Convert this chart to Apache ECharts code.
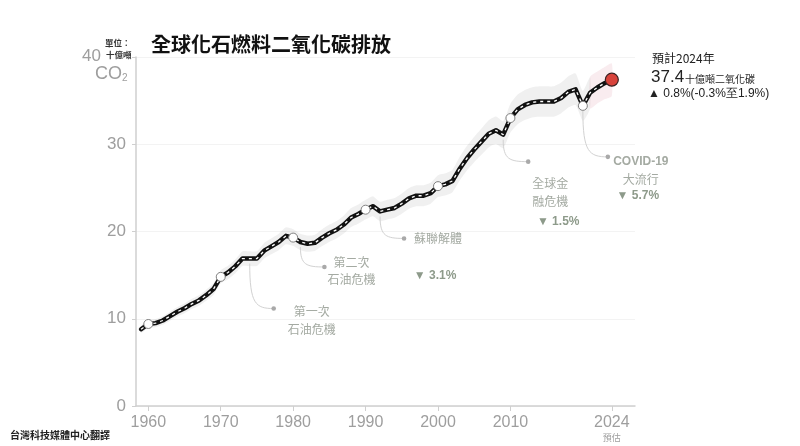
<!DOCTYPE html>
<html><head><meta charset="utf-8">
<script src="https://cdn.jsdelivr.net/npm/echarts@6/dist/echarts.min.js"></script>
<style>html,body{margin:0;padding:0;background:#fff;}#c{width:800px;height:446px;}</style>
</head><body><div id="c"></div>
<script>
// ---------- data ----------
const years = [1959,1960,1961,1962,1963,1964,1965,1966,1967,1968,1969,
  1970,1971,1972,1973,1974,1975,1976,1977,1978,1979,
  1980,1981,1982,1983,1984,1985,1986,1987,1988,1989,
  1990,1991,1992,1993,1994,1995,1996,1997,1998,1999,
  2000,2001,2002,2003,2004,2005,2006,2007,2008,2009,
  2010,2011,2012,2013,2014,2015,2016,2017,2018,2019,
  2020,2021,2022,2023,2024];
const emissions = [8.8,9.4,9.5,9.8,10.3,10.8,11.2,11.7,12.1,12.7,13.4,
  14.8,15.3,16.0,16.9,16.9,16.9,17.8,18.3,18.8,19.5,
  19.3,18.8,18.6,18.7,19.3,19.8,20.2,20.8,21.6,22.0,
  22.5,22.9,22.3,22.5,22.7,23.2,23.8,24.1,24.1,24.4,
  25.2,25.4,25.8,27.2,28.4,29.4,30.3,31.2,31.6,31.1,
  33.0,34.0,34.5,34.8,34.9,34.9,34.9,35.3,36.0,36.3,
  34.4,35.9,36.5,37.0,37.4];
const markedYears = [1960,1970,1980,1990,2000,2010,2020];
const forecastYear = 2024;
const forecastChange = '0.8%';
const forecastRange = ['-0.3%', '1.9%'];
const xTickLabels = [1960,1970,1980,1990,2000,2010,2024];
const yTickValues = [0,10,20,30,40];
const uncertaintyShare = 0.05;   // ±5% uncertainty band
const bandSplitYear = 2021;      // band turns pink (projection) from here
const eventYears = [1974, 1981, 1992, 2009, 2020];
const eventTexts = [['第一次','石油危機'], ['第二次','石油危機'], ['蘇聯解體'], ['全球金','融危機'], ['COVID-19','大流行']];
const eventDrops = [null, null, '3.1%', '1.5%', '5.7%'];

// ---------- layout (pixel offsets from the anchor point on the line) ----------
const eventLayout = [
  {dot:[24,50], text:[62,53], drop:null},
  {dot:[24,25], text:[51,20], drop:null},
  {dot:[24,27], text:[58,27], drop:[55,64]},
  {dot:[25,27], text:[47,49], drop:[55,87]},
  {dot:[25,51], text:[58,56], drop:[55,90]}
];

const valueAt = y => emissions[years.indexOf(y)];
const lineData = years.map((y,i)=>[y, emissions[i]]);
const CJK = '"Noto Sans CJK TC", "Noto Sans CJK SC", sans-serif';
const LAT = '"Liberation Sans", Arial, sans-serif';

const chart = echarts.init(document.getElementById('c'), null, {renderer:'canvas'});

function bandPolygon(api, filter, fill){
  const pts = [];
  const sel = years.map((y,i)=>[y,emissions[i]]).filter(d=>filter(d[0]));
  sel.forEach(d=>pts.push(api.coord([d[0], d[1]*(1+uncertaintyShare)])));
  sel.slice().reverse().forEach(d=>pts.push(api.coord([d[0], d[1]*(1-uncertaintyShare)])));
  return {type:'polygon', shape:{points:pts, smooth:0.2}, style:{fill:fill}};
}

const option = {
  animation:false,
  backgroundColor:'#fff',
  title:{text:'全球化石燃料二氧化碳排放', left:146, top:29,
    textStyle:{fontFamily:CJK, fontSize:20, fontWeight:'bold', color:'#111'}},
  grid:{left:136, right:165, top:57, bottom:40},
  xAxis:{type:'value', min:1958.3, max:2027.2,
    axisLine:{show:true, lineStyle:{color:'#cfcfcf', width:1.5}},
    axisTick:{show:true, customValues:xTickLabels, length:5, lineStyle:{color:'#cfcfcf'}},
    axisLabel:{customValues:xTickLabels, margin:8,
      formatter: v => v===forecastYear ? '{n|'+v+'}\n{s|預估}' : '{n|'+v+'}',
      rich:{n:{fontFamily:LAT, fontSize:16, color:'#9e9e9e', lineHeight:18},
            s:{fontFamily:CJK, fontSize:9, color:'#9e9e9e', lineHeight:12}}},
    splitLine:{show:false}},
  yAxis:{type:'value', min:0, max:40, interval:10,
    axisLine:{show:true, lineStyle:{color:'#cfcfcf', width:1.5}},
    axisTick:{show:true, length:4, lineStyle:{color:'#cfcfcf'}},
    axisLabel:{margin:10, fontFamily:LAT, fontSize:17, color:'#9e9e9e',
      formatter: v => v===40 ? '' : String(v)},
    splitLine:{show:true, lineStyle:{color:'#f3f3f3', width:1}}},
  series:[
    {type:'custom', z:1, silent:true, data:[0], clip:false,
      renderItem:(params, api)=>({type:'group', children:[
        bandPolygon(api, y=>y<=bandSplitYear, 'rgba(0,0,0,0.06)'),
        bandPolygon(api, y=>y>=bandSplitYear, 'rgba(215,120,140,0.14)')
      ]})},
    {type:'custom', z:2, silent:true, data:eventYears.map((y,i)=>i), clip:false,
      renderItem:(params, api)=>{
        const i = params.dataIndex;
        const lay = eventLayout[i];
        const a = api.coord([eventYears[i], valueAt(eventYears[i])]);
        const ax = a[0], ay = a[1]+5;
        const dx = a[0]+lay.dot[0], dy = a[1]+lay.dot[1];
        const children = [
          {type:'bezierCurve', shape:{x1:ax, y1:ay, cpx1:ax, cpy1:ay+(dy-ay)*0.9, cpx2:ax+(dx-ax)*0.25, cpy2:dy, x2:dx, y2:dy},
            style:{stroke:'#d2d2d2', lineWidth:1, fill:null}},
          {type:'circle', shape:{cx:dx, cy:dy, r:2.3}, style:{fill:'#a9a9a9'}}
        ];
        const lines = eventTexts[i];
        const tx = a[0]+lay.text[0], ty = a[1]+lay.text[1];
        lines.forEach((t,k)=>{
          const isLatin = /^[A-Z0-9-]+$/.test(t);
          children.push({type:'text', style:{text:t, x:tx, y:ty+k*17.5, align:'center', verticalAlign:'middle',
            fill:'#a4aaa2', fontSize:12, fontWeight: isLatin?'bold':'normal', fontFamily: isLatin?LAT:CJK}});
        });
        if (eventDrops[i] && lay.drop){
          children.push({type:'text', style:{text:'▼ '+eventDrops[i], x:a[0]+lay.drop[0], y:a[1]+lay.drop[1],
            align:'center', verticalAlign:'middle', fill:'#8d9a8a', fontSize:12, fontWeight:'bold', fontFamily:LAT}});
        }
        return {type:'group', children};
      }},
    {type:'line', z:3, data:lineData, symbol:'none', silent:true,
      lineStyle:{color:'#111', width:4.5, join:'round', cap:'round'}},
    {type:'line', z:4, data:lineData, symbol:'none', silent:true,
      lineStyle:{color:'#fff', width:1.3, type:[3,4]}},
    {type:'scatter', z:5, silent:true, data:markedYears.map(y=>[y, valueAt(y)]), symbolSize:9,
      itemStyle:{color:'#fff', borderColor:'#808080', borderWidth:1, opacity:1}},
    {type:'scatter', z:6, silent:true, data:[[forecastYear, valueAt(forecastYear)]], symbolSize:13,
      itemStyle:{color:'#d8433b', borderColor:'#3b2222', borderWidth:1.2, opacity:1}}
  ],
  graphic:[
    {type:'text', left:10, top:430, style:{text:'台灣科技媒體中心翻譯', fontFamily:CJK, fontSize:10, fontWeight:'bold', fill:'#222'}},
    {type:'text', left:105, top:39, style:{text:'單位：', fontFamily:CJK, fontSize:8.5, fontWeight:'bold', fill:'#333'}},
    {type:'text', left:106, top:51, style:{text:'十億噸', fontFamily:CJK, fontSize:8.5, fontWeight:'bold', fill:'#333'}},
    {type:'text', left:82, top:48, style:{text:'40', fontFamily:LAT, fontSize:17, fill:'#9e9e9e'}},
    {type:'text', left:95, top:65, style:{text:'{c|CO}{s|2}', fill:'#9e9e9e',
      rich:{c:{fontFamily:LAT, fontSize:18, fill:'#9e9e9e'}, s:{fontFamily:LAT, fontSize:10, fill:'#9e9e9e', padding:[8,0,0,0]}}}},
    {type:'text', left:652, top:52, style:{text:'預計'+forecastYear+'年', fontFamily:CJK, fontSize:12, fill:'#222'}},
    {type:'text', left:651, top:69, style:{text:'{a|'+valueAt(forecastYear)+'}{b|十億噸二氧化碳}', fill:'#222',
      rich:{a:{fontFamily:LAT, fontSize:17, fill:'#222'}, b:{fontFamily:CJK, fontSize:10, fill:'#222', padding:[3,0,0,1]}}}},
    {type:'text', left:648, top:88, style:{text:'▲ '+forecastChange+'('+forecastRange[0]+'至'+forecastRange[1]+')', fontFamily:LAT, fontSize:12, fill:'#222'}}
  ]
};
chart.setOption(option);
</script></body></html>
